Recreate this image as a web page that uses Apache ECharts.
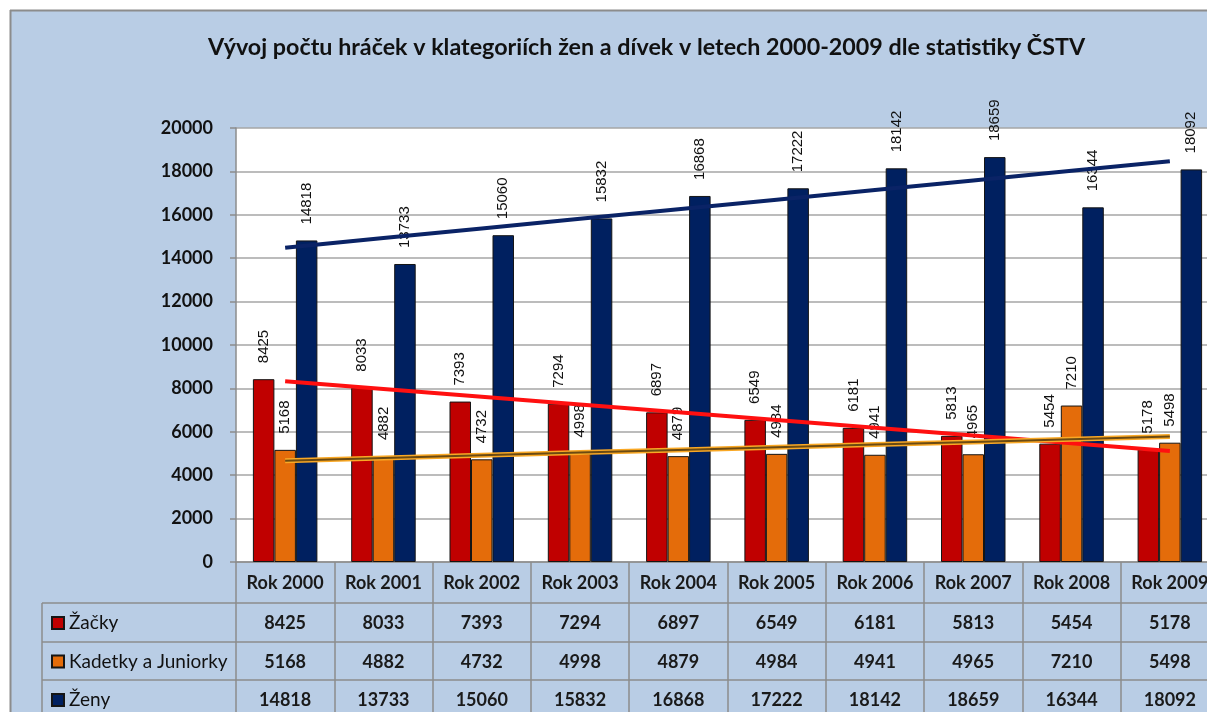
<!DOCTYPE html>
<html>
<head>
<meta charset="utf-8">
<script src="https://cdn.jsdelivr.net/npm/echarts@6/dist/echarts.min.js"></script>
<style>
  html, body { margin: 0; padding: 0; background: #fff; }
  #chart { width: 1207px; height: 712px; }
</style>
</head>
<body>
<div id="chart"></div>
<script>
var categories = ['Rok 2000', 'Rok 2001', 'Rok 2002', 'Rok 2003', 'Rok 2004',
                  'Rok 2005', 'Rok 2006', 'Rok 2007', 'Rok 2008', 'Rok 2009'];
var zacky   = [8425, 8033, 7393, 7294, 6897, 6549, 6181, 5813, 5454, 5178];
var kadetky = [5168, 4882, 4732, 4998, 4879, 4984, 4941, 4965, 7210, 5498];
var zeny    = [14818, 13733, 15060, 15832, 16868, 17222, 18142, 18659, 16344, 18092];
var names   = ['Žačky', 'Kadetky a Juniorky', 'Ženy'];
var yMin = 0, yMax = 20000, yStep = 2000;

var GRID_LEFT = 236, GRID_TOP = 128, GRID_W = 983, GRID_H = 434;
var LINE = '#8c8c8c';
var FONT = 'Lato';

// excel style linear trend
function trend(values) {
    var n = values.length, mx = (n - 1) / 2, my = 0, sxy = 0, sxx = 0;
    values.forEach(function (v) { my += v / n });
    values.forEach(function (v, i) {
        sxy += (i - mx) * (v - my);
        sxx += (i - mx) * (i - mx);
    });
    var k = sxy / sxx;
    return values.map(function (v, i) { return my + k * (i - mx) });
}

function barSerie(name, data, color) {
    return {
        name: name,
        type: 'bar',
        data: data,
        barWidth: 21.5,
        barGap: '0%',
        itemStyle: { color: color, borderColor: '#151515', borderWidth: 1 },
        label: {
            show: true,
            position: 'top',
            rotate: 90,
            align: 'left',
            verticalAlign: 'middle',
            distance: 16,
            fontFamily: 'Liberation Sans',
            fontSize: 15,
            color: '#111'
        },
        z: 2
    };
}

function trendSerie(data, color, width, z) {
    return {
        type: 'line',
        data: data,
        symbol: 'none',
        silent: true,
        lineStyle: { color: color, width: width },
        z: z
    };
}

function rowAxis(offset, values) {
    return {
        type: 'category',
        position: 'bottom',
        offset: offset,
        data: categories,
        axisLine: { show: true, lineStyle: { color: LINE, width: 1.5 } },
        axisTick: { show: false },
        axisLabel: {
            interval: 0,
            margin: 11,
            fontFamily: FONT,
            fontWeight: 'bold',
            fontSize: 18,
            color: '#1a1a1a',
            formatter: function (v, i) { return String(values[i]) }
        }
    };
}

function legendRow(i) {
    return {
        data: [names[i]],
        left: 51,
        top: 613 + 38.5 * i,
        padding: 0,
        itemWidth: 12,
        itemHeight: 12,
        icon: 'rect',
        textStyle: { fontFamily: FONT, fontSize: 19, lineHeight: 20, color: '#111' }
    };
}

var chart = echarts.init(document.getElementById('chart'));
var option = {
    backgroundColor: '#b9cde5',
    animation: false,
    title: {
        text: 'Vývoj počtu hráček v klategoriích žen a dívek v letech 2000-2009 dle statistiky ČSTV',
        left: 203,
        top: 31,
        textStyle: { fontFamily: FONT, fontWeight: 'bold', fontSize: 23.3, color: '#111' }
    },
    legend: [legendRow(0), legendRow(1), legendRow(2)],
    grid: {
        left: GRID_LEFT, top: GRID_TOP, width: GRID_W, height: GRID_H,
        outerBoundsMode: 'none',
        containLabel: false,
        show: true, backgroundColor: '#fff', borderWidth: 0
    },
    xAxis: [
        {
            type: 'category',
            data: categories,
            axisLine: { show: true, lineStyle: { color: LINE, width: 1.5 } },
            axisTick: { show: true, interval: 0, length: 160, lineStyle: { color: LINE, width: 1.5 } },
            axisLabel: {
                interval: 0, margin: 12,
                fontFamily: FONT, fontWeight: 'bold', fontSize: 18, color: '#1a1a1a'
            }
        },
        rowAxis(41, zacky),
        rowAxis(80, kadetky),
        rowAxis(118, zeny)
    ],
    yAxis: {
        type: 'value',
        min: yMin, max: yMax, interval: yStep,
        axisLine: { show: true, lineStyle: { color: LINE, width: 1.5 } },
        axisTick: { show: true, length: 6, lineStyle: { color: LINE, width: 1.5 } },
        splitLine: { lineStyle: { color: '#a6a6a6', width: 1.5 } },
        axisLabel: {
            margin: 23, fontFamily: FONT, fontWeight: 'bold', fontSize: 18, color: '#111',
            formatter: function (v) { return String(v) }
        }
    },
    series: [
        barSerie(names[0], zacky, '#c00000'),
        barSerie(names[1], kadetky, '#e46c0a'),
        barSerie(names[2], zeny, '#002060'),
        trendSerie(trend(zacky), '#ff1010', 4, 5),
        trendSerie(trend(kadetky), '#f9a825', 5, 5),
        trendSerie(trend(kadetky), '#6b4a12', 2, 6),
        trendSerie(trend(zeny), '#0a2366', 4, 5)
    ],
    graphic: [
        // white page margin + outer frame of the chart
        { type: 'rect', shape: { x: 0, y: 0, width: 1207, height: 10 }, style: { fill: '#fff' }, z: 100 },
        { type: 'rect', shape: { x: 0, y: 0, width: 10, height: 712 }, style: { fill: '#fff' }, z: 100 },
        { type: 'line', shape: { x1: 10, y1: 10.5, x2: 1207, y2: 10.5 }, style: { stroke: LINE, lineWidth: 2 }, z: 100 },
        { type: 'line', shape: { x1: 10.5, y1: 10, x2: 10.5, y2: 712 }, style: { stroke: LINE, lineWidth: 2 }, z: 100 },
        // legend column of the data table
        { type: 'line', shape: { x1: 42, y1: 603, x2: 42, y2: 712 }, style: { stroke: LINE, lineWidth: 1.5 }, z: 100 },
        { type: 'line', shape: { x1: 42, y1: 603, x2: GRID_LEFT, y2: 603 }, style: { stroke: LINE, lineWidth: 1.5 }, z: 100 },
        { type: 'line', shape: { x1: 42, y1: 642, x2: GRID_LEFT, y2: 642 }, style: { stroke: LINE, lineWidth: 1.5 }, z: 100 },
        { type: 'line', shape: { x1: 42, y1: 680, x2: GRID_LEFT, y2: 680 }, style: { stroke: LINE, lineWidth: 1.5 }, z: 100 }
    ]
};
chart.setOption(option);
</script>
</body>
</html>
